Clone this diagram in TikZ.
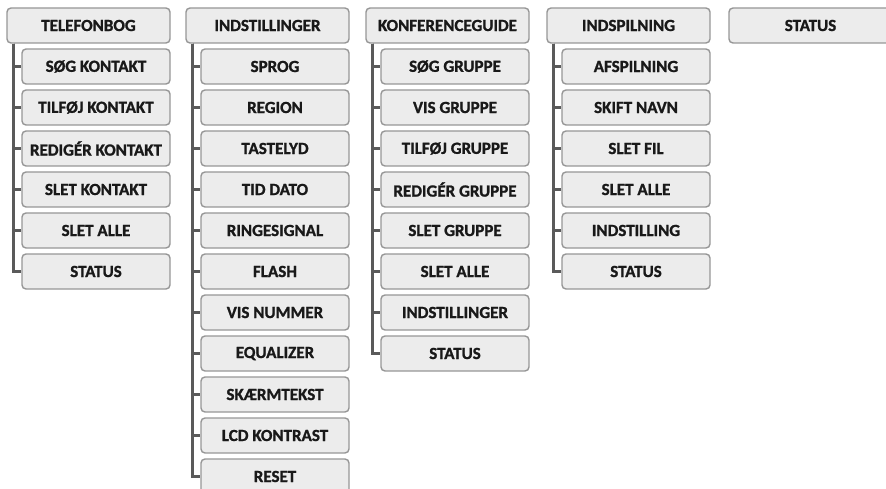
\documentclass[tikz,border=0pt]{standalone}
\usepackage{fontspec}
\setmainfont{Carlito}[BoldFeatures={FakeBold=1.2}]
\definecolor{cfill}{RGB}{236,236,236}
\definecolor{cedge}{RGB}{150,150,150}
\definecolor{ctree}{RGB}{90,90,90}
\definecolor{ctext}{RGB}{25,25,25}
\tikzset{
  menubox/.style={draw=cedge,fill=cfill,line width=1.4pt,rounded corners=4pt,
    minimum height=35pt,inner sep=0pt,text=ctext,
    font=\fontsize{17}{20}\selectfont\bfseries},
  topbox/.style={menubox,minimum width=163pt},
  subbox/.style={menubox,minimum width=148pt},
  tree/.style={ctree,line width=3pt}
}
\begin{document}
\begin{tikzpicture}[x=1pt,y=-1pt]
 \useasboundingbox (0,0) rectangle (886,489);
 \clip (0,0) rectangle (886,489);
 % ---- menu columns ----
 \foreach \xl/\nm/\head/\subs in {%
   7/tel/TELEFONBOG/{SØG KONTAKT,TILFØJ KONTAKT,REDIGÉR KONTAKT,SLET KONTAKT,SLET ALLE,STATUS},
   186/ind/INDSTILLINGER/{SPROG,REGION,TASTELYD,TID DATO,RINGESIGNAL,FLASH,VIS NUMMER,EQUALIZER,SKÆRMTEKST,LCD KONTRAST,RESET},
   366/kon/KONFERENCEGUIDE/{SØG GRUPPE,VIS GRUPPE,TILFØJ GRUPPE,REDIGÉR GRUPPE,SLET GRUPPE,SLET ALLE,INDSTILLINGER,STATUS},
   547/rec/INDSPILNING/{AFSPILNING,SKIFT NAVN,SLET FIL,SLET ALLE,INDSTILLING,STATUS}} {
   \node[topbox] (\nm) at (\xl+81.5,25.5) {\head};
   \foreach \s [count=\i] in \subs {
     \node[subbox] (\nm-\i) at (\xl+89,{66.5+41*(\i-1)}) {\s};
     \draw[tree] ([xshift=7pt]\nm.south west) |- (\nm-\i.west);
   }
 }
 % ---- single status box ----
 \node[topbox] (sta) at (729+81.5,25.5) {STATUS};
\end{tikzpicture}
\end{document}
